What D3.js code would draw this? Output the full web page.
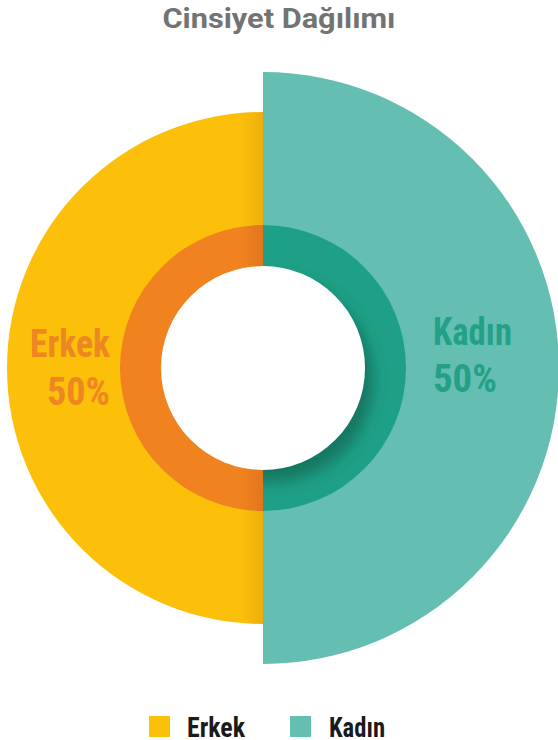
<!DOCTYPE html>
<html>
<head>
<meta charset="utf-8">
<script src="https://cdn.jsdelivr.net/npm/d3@7"></script>
<style>
  body { margin: 0; background: #fff; }
  svg { display: block; }
</style>
</head>
<body>
<div id="chart"></div>
<script>
// data
var categories = ["Erkek", "Kadın"];
var values = [50, 50];
var percentLabels = ["50%", "50%"];
var title = "Cinsiyet Dağılımı";

var svgWidth = 558;
var svgHeight = 740;
var cx = 263, cy = 368;

var outerColors = d3.scaleOrdinal().domain(categories).range(["#FCBF0A", "#64BFB2"]);
var innerColors = d3.scaleOrdinal().domain(categories).range(["#F0821F", "#1EA086"]);
var labelColors = d3.scaleOrdinal().domain(categories).range(["#EE8622", "#24A086"]);
var outerRadius = d3.scaleOrdinal().domain(categories).range([256, 296]);

var svg = d3.select("#chart")
    .append("svg")
    .attr("width", svgWidth)
    .attr("height", svgHeight);

var defs = svg.append("defs");

// slight darkening next to the middle line on the left half
function edgeGradient(id, from, to) {
    var g = defs.append("linearGradient").attr("id", id)
        .attr("gradientUnits", "userSpaceOnUse")
        .attr("x1", -22).attr("x2", 0).attr("y1", 0).attr("y2", 0);
    g.append("stop").attr("offset", "0%").attr("stop-color", from);
    g.append("stop").attr("offset", "100%").attr("stop-color", to);
}
edgeGradient("gradYellow", "#FCBF0A", "#EDAF0B");
edgeGradient("gradOrange", "#F0821F", "#E2761D");

defs.append("filter").attr("id", "blur")
    .attr("x", "-30%").attr("y", "-30%").attr("width", "160%").attr("height", "160%")
    .append("feGaussianBlur").attr("stdDeviation", 7);

defs.append("clipPath").attr("id", "ringClip")
    .append("path")
    .attr("d", d3.arc()({innerRadius: 0, outerRadius: 143, startAngle: 0, endAngle: Math.PI}));

var pie = d3.pie()
    .sort(null)
    .value(d => d)
    .startAngle(Math.PI)
    .endAngle(3 * Math.PI);

var arcs = pie(values).map((d, i) => Object.assign(d, {cat: categories[i]}));

var chartGroup = svg.append("g")
    .attr("transform", `translate(${cx}, ${cy})`);

// big outer halves
chartGroup.selectAll("path.outer")
    .data(arcs)
    .enter()
    .append("path")
    .attr("class", "outer")
    .attr("d", d => d3.arc().innerRadius(0).outerRadius(outerRadius(d.cat))(d))
    .attr("fill", (d, i) => i === 0 ? "url(#gradYellow)" : outerColors(d.cat));

// inner ring
var innerArc = d3.arc().innerRadius(0).outerRadius(143);
chartGroup.selectAll("path.inner")
    .data(arcs)
    .enter()
    .append("path")
    .attr("class", "inner")
    .attr("d", innerArc)
    .attr("fill", (d, i) => i === 0 ? "url(#gradOrange)" : innerColors(d.cat));

// shadow of the hole on the right ring
chartGroup.append("g")
    .attr("clip-path", "url(#ringClip)")
    .append("circle")
    .attr("cx", 8).attr("cy", 12).attr("r", 102)
    .attr("fill", "#0b4f40")
    .attr("opacity", 0.5)
    .attr("filter", "url(#blur)");

// hole
chartGroup.append("circle")
    .attr("r", 102)
    .attr("fill", "#fff");

// labels
var labelFont = "'Roboto Condensed', 'Liberation Sans Narrow', 'DejaVu Sans Condensed', Roboto, sans-serif";
var labelPos = [
    {x: 110, anchor: "end", y1: 357, y2: 405, w1: 80, w2: 63},
    {x: 433, anchor: "start", y1: 345, y2: 392, w1: 79, w2: 64}
];

categories.forEach(function(c, i) {
    var p = labelPos[i];
    svg.append("text")
        .attr("x", p.x).attr("y", p.y1)
        .attr("text-anchor", p.anchor)
        .attr("font-family", labelFont)
        .attr("font-weight", "bold")
        .attr("font-size", 38)
        .attr("textLength", p.w1)
        .attr("lengthAdjust", "spacingAndGlyphs")
        .attr("fill", labelColors(c))
        .text(c);
    svg.append("text")
        .attr("x", p.x).attr("y", p.y2)
        .attr("text-anchor", p.anchor)
        .attr("font-family", labelFont)
        .attr("font-weight", "bold")
        .attr("font-size", 38)
        .attr("textLength", p.w2)
        .attr("lengthAdjust", "spacingAndGlyphs")
        .attr("fill", labelColors(c))
        .text(percentLabels[i]);
});

// title
svg.append("text")
    .attr("x", 279)
    .attr("y", 28)
    .attr("text-anchor", "middle")
    .attr("font-family", "Roboto, 'Open Sans', sans-serif")
    .attr("font-weight", "bold")
    .attr("font-size", 27)
    .attr("textLength", 233)
    .attr("lengthAdjust", "spacingAndGlyphs")
    .attr("fill", "#737373")
    .text(title);

// legend
var legendX = d3.scaleOrdinal().domain(categories).range([149, 290]);
var legendW = [58, 56];
var legend = svg.selectAll("g.legend")
    .data(categories)
    .enter()
    .append("g")
    .attr("class", "legend")
    .attr("transform", d => `translate(${legendX(d)}, 716)`);

legend.append("rect")
    .attr("width", 21).attr("height", 21)
    .attr("fill", d => outerColors(d));

legend.append("text")
    .attr("x", (d, i) => i === 0 ? 38 : 39)
    .attr("y", 21)
    .attr("font-family", labelFont)
    .attr("font-weight", "bold")
    .attr("font-size", 28)
    .attr("textLength", (d, i) => legendW[i])
    .attr("lengthAdjust", "spacingAndGlyphs")
    .attr("fill", "#1a1a1a")
    .text(d => d);
</script>
</body>
</html>
